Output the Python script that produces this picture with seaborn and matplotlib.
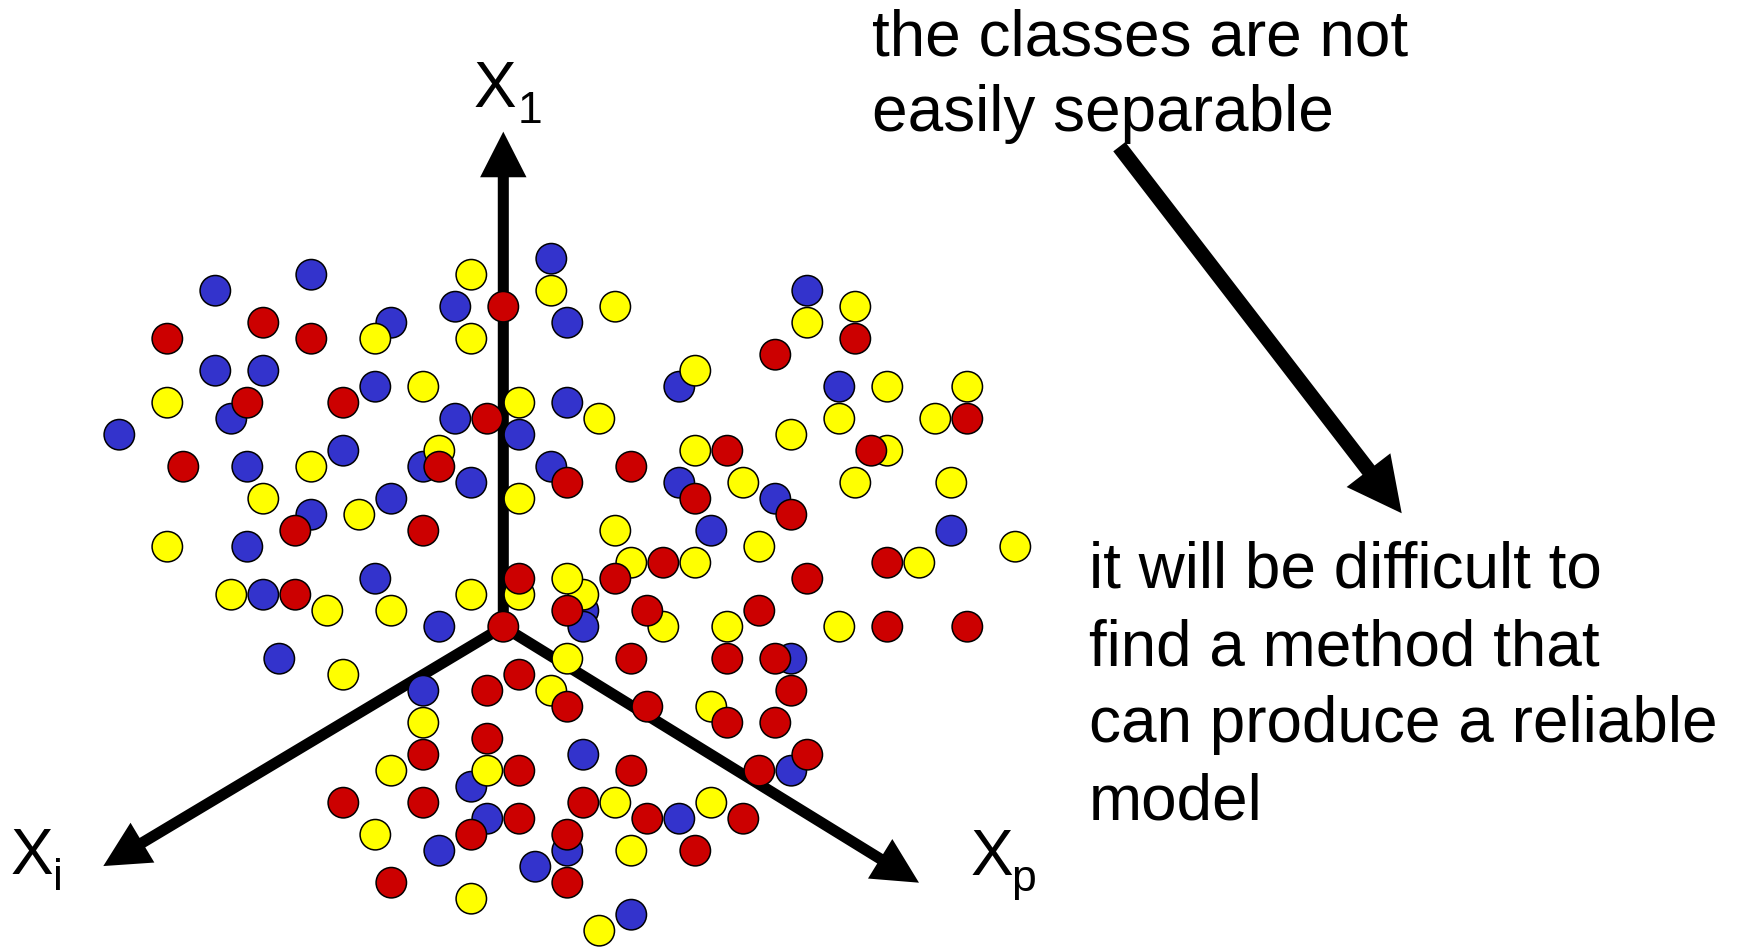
import matplotlib
matplotlib.use("Agg")
import matplotlib.pyplot as plt
import seaborn as sns
import pandas as pd

# Observations projected onto the (X_i, X_1, X_p) view, in grid units from the origin.
# Listed in drawing order so that overlapping circles stack correctly.
obs_x = [-18, -12, -15, -21, -12, -7, -8, -18, -15, -21,
         -17, -16, -10, -8, -5, -24, -20, -16, -12, -10,
         -5, -4, -4, -2, -3, 0, -2, 3, 3, 4,
         7, -3, -1, 1, 1, 4, 6, 11, 12, -2,
         3, 4, 8, 12, 14, 11, 12, 19, 19, 22,
         22, 17, 21, 21, 24, 18, 29, 29, 27, 24,
         23, 15, 22, 28, -15, -12, -13, -9, -7, -5,
         -21, -16, -8, -17, -15, -13, -11, -7, -4, -14,
         -10, -5, -5, 1, 7, 13, 8, 7, 10, 12,
         1, 1, -2, 5, 5, 5, 4, 4, 0, 10,
         9, 14, 8, 14, 4, 1, -1, 3, 4, 9,
         13, 14, 17, 18, 16, 28, 32, 24, 26, 19,
         16, 21, 24, 29, 18, 17, 18, 17, 18, 19,
         16, 15, -5, -5, -1, -2, -1, 1, -1, -2,
         1, -4, -2, 5, 5, 7, 8, 9, 11, 13,
         8, 12, 4, 4, 2, 4, 8, 6, -7, -10,
         -8, -7]
obs_y = [21, 22, 19, 18, 18, 19, 18, 16, 16, 14,
         13, 14, 14, 15, 15, 12, 10, 10, 10, 11,
         10, 11, 10, 22, 20, 20, 18, 23, 21, 19,
         20, 13, 13, 14, 12, 14, 13, 15, 16, 9,
         10, 9, 10, 11, 11, 9, 8, 21, 19, 20,
         18, 17, 15, 13, 15, 12, 15, 13, 13, 11,
         11, 9, 9, 9, 8, 7, 6, 7, 8, 6,
         5, 5, 3, 2, 2, 2, 1, 1, 0, -2,
         -3, -4, -6, 8, 6, 6, 4, 3, 4, 4,
         2, 3, 2, 1, 0, 2, 3, 1, 0, 0,
         1, 0, -2, -2, -2, -3, -4, -4, -5, -5,
         -5, -6, 8, 7, 5, 6, 5, 4, 4, 3,
         1, 0, 0, 0, -2, -2, -4, -6, -9, -8,
         -9, -12, -8, -11, -7, -10, -9, -9, -12, -13,
         -12, -14, -17, -8, -11, -11, -9, -12, -12, -11,
         -14, -14, -14, -13, -15, -16, -18, -19, -9, -11,
         -13, -16]
obs_class = list("BBRRRBYBBY" "BRRBYBRBYB" "BYRYBRYBYB" "YBRYBBYBYB"
                 "BRRYRBRBYY" "RRBYYYYRYY" "RYYYYBRYBR" "YBBYBRYYBB"
                 "YBYYYBYRRY" "YRYBBYYRRY" "RYRRYRRYRR" "YRBRYBYRYR"
                 "RYRRBRRRBR" "RRRRRBYRBR" "RBYBRYRRBY" "YRBRBRBYYR"
                 "YR")

palette = {"B": "#3333CC", "R": "#CC0000", "Y": "#FFFF00"}

# Projected feature axes (tips in grid units) and their labels
axis_tips = [(0.0, 30.94), (-25.0, -14.96), (25.98, -16.0)]
axis_label_main = ["X", "X", "X"]
axis_label_sub = ["1", "i", "p"]

note_top = ["the classes are not", "easily separable"]
note_bottom = ["it will be difficult to", "find a method that",
               "can produce a reliable", "model"]

W, H = 1739, 949
CELL = 16.0                 # pixels per grid unit
ORIGIN = (503.3, 626.7)     # pixel position of the axes origin

sns.set_style("white")
plt.rcParams["font.family"] = ["Liberation Sans", "DejaVu Sans"]
plt.rcParams["text.color"] = "black"

fig = plt.figure(figsize=(W / 100, H / 100), dpi=100)
ax = fig.add_axes([0, 0, 1, 1])
ax.set_xlim(-ORIGIN[0] / CELL, (W - ORIGIN[0]) / CELL)
ax.set_ylim((ORIGIN[1] - H) / CELL, ORIGIN[1] / CELL)
ax.axis("off")

# Feature axes
for tip in axis_tips:
    ax.arrow(0, 0, tip[0], tip[1], width=0.69, head_width=2.9, head_length=2.85,
             length_includes_head=True, color="black", zorder=1, linewidth=0)

# Explanatory arrow from the top note to the bottom note
ax.arrow(38.5, 30.0, 56.15 - 38.5, 7.09 - 30.0, width=0.95, head_width=3.45,
         head_length=3.4, length_includes_head=True, color="black", zorder=1,
         linewidth=0)

df = pd.DataFrame({"x": obs_x, "y": obs_y, "cls": obs_class})
sns.scatterplot(data=df, x="x", y="y", hue="cls", palette=palette, s=480,
                edgecolor="black", linewidth=1.1, legend=False, ax=ax, zorder=3)
ax.set_xlabel("")
ax.set_ylabel("")


def px(x, y):
    return x / W, 1 - y / H


# Axis labels: main letter plus subscript
label_main_pos = [(474, 106.7), (10.5, 874), (970.5, 875)]
label_sub_pos = [(518, 123.3), (52.5, 890), (1011, 891)]
for m, s, pm, ps in zip(axis_label_main, axis_label_sub, label_main_pos, label_sub_pos):
    fig.text(*px(*pm), m, fontsize=46, ha="left", va="baseline", color="black")
    fig.text(*px(*ps), s, fontsize=32, ha="left", va="baseline", color="black")

for k, line in enumerate(note_top):
    fig.text(*px(872, 55 + 76 * k), line, fontsize=46, ha="left",
             va="baseline", color="black")
for k, line in enumerate(note_bottom):
    fig.text(*px(1089, 588 + 77 * k), line, fontsize=46, ha="left",
             va="baseline", color="black")

fig.savefig("out.png", dpi=100, facecolor="white")
